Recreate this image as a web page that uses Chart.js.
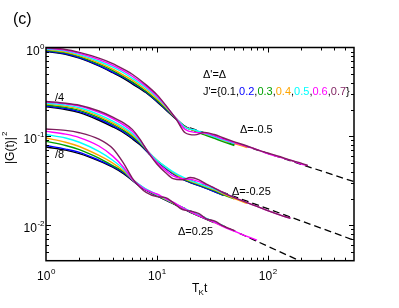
<!DOCTYPE html>
<html>
<head>
<meta charset="utf-8">
<script src="https://cdn.jsdelivr.net/npm/chart.js@4.4.1/dist/chart.umd.min.js"></script>
<style>
html, body { margin: 0; padding: 0; background: #fff; }
canvas { display: block; }
</style>
</head>
<body>
<canvas id="chart" width="399" height="308"></canvas>
<script>
'use strict';

// J' values and their colours (one curve per J' in every group)
const jPrime = ['0.1', '0.2', '0.3', '0.4', '0.5', '0.6', '0.7'];
const jColors = ['#000000', '#0000ff', '#00a000', '#ffa500', '#00ffff', '#ff00ff', '#7f1f5f'];

// Delta = -0.5 (not rescaled)
const tTop = [1, 1.5, 2, 3, 4, 5, 6, 8, 10, 12, 15, 18, 22, 27, 33, 40, 50, 65, 80, 100, 130, 160, 200, 230];
const gTop = [
    [0.90, 0.84, 0.76, 0.62, 0.52, 0.45, 0.39, 0.31, 0.245, 0.20, 0.155, 0.128, 0.116, 0.106, 0.097, 0.089, 0.081],
    [0.91, 0.85, 0.77, 0.63, 0.53, 0.46, 0.40, 0.315, 0.25, 0.204, 0.157, 0.129, 0.117, 0.107, 0.098, 0.090, 0.082],
    [0.93, 0.87, 0.79, 0.65, 0.55, 0.47, 0.41, 0.32, 0.255, 0.207, 0.157, 0.128, 0.115, 0.104, 0.095, 0.087, 0.079],
    [0.95, 0.89, 0.81, 0.67, 0.57, 0.49, 0.43, 0.335, 0.265, 0.213, 0.158, 0.127, 0.117, 0.107, 0.099, 0.090, 0.083, 0.075],
    [0.96, 0.91, 0.83, 0.70, 0.60, 0.52, 0.45, 0.35, 0.275, 0.218, 0.158, 0.126, 0.118, 0.108, 0.099, 0.091, 0.083],
    [0.98, 0.93, 0.86, 0.73, 0.63, 0.545, 0.475, 0.365, 0.285, 0.222, 0.157, 0.120, 0.111, 0.109, 0.102, 0.093, 0.085, 0.077, 0.071, 0.064, 0.058, 0.054, 0.049, 0.047],
    [0.99, 0.95, 0.88, 0.76, 0.66, 0.57, 0.50, 0.38, 0.295, 0.225, 0.155, 0.110, 0.104, 0.111, 0.105, 0.096, 0.087, 0.078, 0.071, 0.065, 0.059, 0.054, 0.050, 0.047]
];

// Delta = -0.25, divided by 4
const tMid = [1, 1.5, 2, 3, 4, 5, 6, 7, 8.5, 10, 12, 14, 17, 20, 24, 28, 33, 40, 50, 65, 80, 100, 130, 160];
const gMid = [
    [0.215, 0.201, 0.185, 0.152, 0.128, 0.110, 0.094, 0.081, 0.064, 0.053, 0.044, 0.038, 0.033, 0.0303, 0.028, 0.026, 0.024, 0.0218],
    [0.220, 0.206, 0.190, 0.157, 0.132, 0.113, 0.097, 0.083, 0.064, 0.053, 0.044, 0.038, 0.033, 0.0305, 0.028, 0.026, 0.024, 0.0218],
    [0.226, 0.212, 0.196, 0.163, 0.137, 0.117, 0.100, 0.085, 0.065, 0.054, 0.045, 0.039, 0.0335, 0.031, 0.0285, 0.0265, 0.0245, 0.022, 0.0198],
    [0.232, 0.218, 0.203, 0.169, 0.142, 0.122, 0.104, 0.087, 0.066, 0.054, 0.045, 0.039, 0.034, 0.0315, 0.029, 0.027, 0.025, 0.0225, 0.020, 0.0177],
    [0.237, 0.225, 0.210, 0.176, 0.149, 0.127, 0.108, 0.089, 0.066, 0.054, 0.0455, 0.040, 0.035, 0.032, 0.0295, 0.0275, 0.0255, 0.023, 0.0205],
    [0.243, 0.232, 0.219, 0.186, 0.159, 0.135, 0.114, 0.092, 0.065, 0.051, 0.0415, 0.036, 0.0335, 0.033, 0.031, 0.0285, 0.0262, 0.0232, 0.0205, 0.018, 0.0163, 0.0146, 0.013, 0.012],
    [0.247, 0.236, 0.224, 0.193, 0.165, 0.142, 0.120, 0.094, 0.064, 0.049, 0.039, 0.0335, 0.0325, 0.0345, 0.0325, 0.029, 0.0262, 0.0232, 0.0205, 0.018, 0.0163, 0.0146, 0.013, 0.012]
];

// Delta = 0.25, divided by 8
const tBot = [1, 1.5, 2, 3, 4, 5, 6, 7, 8, 10, 12, 14, 17, 20, 24, 28, 33, 40, 50, 65, 80];
const gBot = [
    [0.076, 0.070, 0.064, 0.053, 0.045, 0.038, 0.032, 0.0275, 0.0248, 0.0215, 0.0192, 0.0175, 0.0155, 0.014, 0.0127, 0.0117, 0.0107],
    [0.079, 0.072, 0.066, 0.054, 0.046, 0.039, 0.0325, 0.0277, 0.0249, 0.0216, 0.0193, 0.0176, 0.0156, 0.0141, 0.0128, 0.0118, 0.0108],
    [0.088, 0.079, 0.071, 0.057, 0.047, 0.040, 0.033, 0.028, 0.025, 0.0218, 0.0194, 0.0177, 0.0157, 0.0142, 0.0128, 0.0118, 0.0107],
    [0.096, 0.086, 0.077, 0.061, 0.050, 0.041, 0.033, 0.0283, 0.0253, 0.022, 0.0196, 0.0178, 0.0158, 0.0143, 0.0129, 0.0119, 0.0108, 0.0097],
    [0.105, 0.096, 0.086, 0.068, 0.054, 0.043, 0.033, 0.0285, 0.0255, 0.0222, 0.0198, 0.018, 0.0159, 0.0144, 0.013, 0.012, 0.0109, 0.0098],
    [0.114, 0.106, 0.097, 0.078, 0.060, 0.045, 0.033, 0.028, 0.025, 0.0225, 0.020, 0.0182, 0.0158, 0.0143, 0.0128, 0.0118, 0.0108, 0.0096, 0.0086, 0.0075, 0.0068],
    [0.121, 0.117, 0.110, 0.093, 0.073, 0.050, 0.034, 0.027, 0.0235, 0.021, 0.0205, 0.018, 0.015, 0.0145, 0.0135, 0.0118, 0.0112, 0.0098, 0.0087]
];

// dashed power-law asymptotes (start and end of each straight line)
const tailT = [[16, 600], [20, 600], [16, 600]];
const tailG = [[0.136, 0.031], [0.032, 0.0068], [0.0165, 0.0021]];

// axis ticks
const xTickValues = [1, 10, 100];
const xTickExps = ['0', '1', '2'];
const yTickValues = [1, 0.1, 0.01];
const yTickExps = ['0', '-1', '-2'];

const FONT = "'Liberation Sans', Arial, sans-serif";

function curveSets(tGrid, rows) {
    return rows.map((row, i) => ({
        label: "J'=" + jPrime[i],
        data: row.map((g, k) => ({x: tGrid[k], y: g})),
        borderColor: jColors[i],
        borderWidth: 1.4,
        order: 6 - i
    }));
}

const datasets = []
    .concat(curveSets(tTop, gTop))
    .concat(curveSets(tMid, gMid))
    .concat(curveSets(tBot, gBot));

tailT.forEach((ts, i) => {
    datasets.push({
        label: 'asymptote',
        data: ts.map((t, k) => ({x: t, y: tailG[i][k]})),
        borderColor: '#000000',
        borderWidth: 1.3,
        borderDash: [7, 4],
        order: 10
    });
});

function drawPow(ctx, x, y, exp, align) {
    ctx.font = '12px ' + FONT;
    const wb = ctx.measureText('10').width;
    ctx.font = '8px ' + FONT;
    const we = ctx.measureText(exp).width;
    let left = x;
    if (align === 'center') left = x - (wb + we) / 2;
    if (align === 'right') left = x - wb - we;
    ctx.textAlign = 'left';
    ctx.textBaseline = 'alphabetic';
    ctx.font = '12px ' + FONT;
    ctx.fillText('10', left, y);
    ctx.font = '8px ' + FONT;
    ctx.fillText(exp, left + wb + 0.5, y - 6);
}

const framePlugin = {
    id: 'frame',
    afterDraw(chart) {
        const ctx = chart.ctx;
        const a = chart.chartArea;
        const xs = chart.scales.x;
        const ys = chart.scales.y;
        ctx.save();
        ctx.strokeStyle = '#000';
        ctx.fillStyle = '#000';

        // inward ticks on all four sides
        ctx.lineWidth = 1;
        ctx.beginPath();
        for (let d = 0; d <= 2; d++) {
            for (let m = 1; m <= 9; m++) {
                const v = m * Math.pow(10, d);
                if (v <= xs.min || v >= xs.max) continue;
                const px = Math.round(xs.getPixelForValue(v)) + 0.5;
                const len = m === 1 ? 5 : 3;
                ctx.moveTo(px, a.bottom); ctx.lineTo(px, a.bottom - len);
                ctx.moveTo(px, a.top); ctx.lineTo(px, a.top + len);
            }
        }
        for (let d = -3; d <= 0; d++) {
            for (let m = 1; m <= 9; m++) {
                const v = m * Math.pow(10, d);
                if (v <= ys.min || v >= ys.max) continue;
                const py = Math.round(ys.getPixelForValue(v)) + 0.5;
                const len = m === 1 ? 5 : 3;
                ctx.moveTo(a.left, py); ctx.lineTo(a.left + len, py);
                ctx.moveTo(a.right, py); ctx.lineTo(a.right - len, py);
            }
        }
        ctx.stroke();

        ctx.lineWidth = 1.5;
        ctx.strokeRect(a.left, a.top, a.right - a.left, a.bottom - a.top);

        // tick labels
        xTickValues.forEach((v, i) => {
            drawPow(ctx, xs.getPixelForValue(v), a.bottom + 19, xTickExps[i], 'center');
        });
        yTickValues.forEach((v, i) => {
            drawPow(ctx, a.left - 2, ys.getPixelForValue(v) + 7, yTickExps[i], 'right');
        });

        // axis titles
        ctx.textAlign = 'left';
        ctx.font = '12px ' + FONT;
        ctx.fillText('T', 192, 292);
        ctx.font = '8px ' + FONT;
        ctx.fillText('K', 198.5, 295);
        ctx.font = '12px ' + FONT;
        ctx.fillText('t', 204, 292);

        ctx.save();
        ctx.translate(14, 164);
        ctx.rotate(-Math.PI / 2);
        ctx.font = '12px ' + FONT;
        ctx.fillText('|G(t)|', 0, 0);
        const wg = ctx.measureText('|G(t)|').width;
        ctx.font = '8px ' + FONT;
        ctx.fillText('2', wg + 1, -7);
        ctx.restore();

        // panel label
        ctx.font = '16px ' + FONT;
        ctx.fillText('(c)', 13, 24);

        // annotations
        ctx.font = '11px ' + FONT;
        ctx.fillText("\u0394'=\u0394", 203, 78);
        ctx.fillText('/4', 55, 101);
        ctx.fillText('/8', 55, 158);
        ctx.fillText('\u0394=-0.5', 240, 133);
        ctx.fillText('\u0394=-0.25', 232, 195);
        ctx.fillText('\u0394=0.25', 178, 235);

        let cx = 203;
        const put = (s, c) => {
            ctx.fillStyle = c;
            ctx.fillText(s, cx, 95);
            cx += ctx.measureText(s).width;
        };
        put("J'={", '#000');
        jPrime.forEach((j, i) => {
            put(j, jColors[i]);
            put(i < jPrime.length - 1 ? ',' : '}', '#000');
        });
        ctx.restore();
    }
};

new Chart(document.getElementById('chart'), {
    type: 'line',
    data: {datasets: datasets},
    options: {
        responsive: false,
        animation: false,
        layout: {padding: {left: 46, right: 45, top: 47.5, bottom: 47.3}},
        plugins: {
            legend: {display: false},
            tooltip: {enabled: false}
        },
        elements: {
            point: {radius: 0},
            line: {cubicInterpolationMode: 'monotone'}
        },
        scales: {
            x: {type: 'logarithmic', min: 1, max: 600, display: false},
            y: {type: 'logarithmic', min: 0.004, max: 1, display: false}
        }
    },
    plugins: [framePlugin]
});
</script>
</body>
</html>
